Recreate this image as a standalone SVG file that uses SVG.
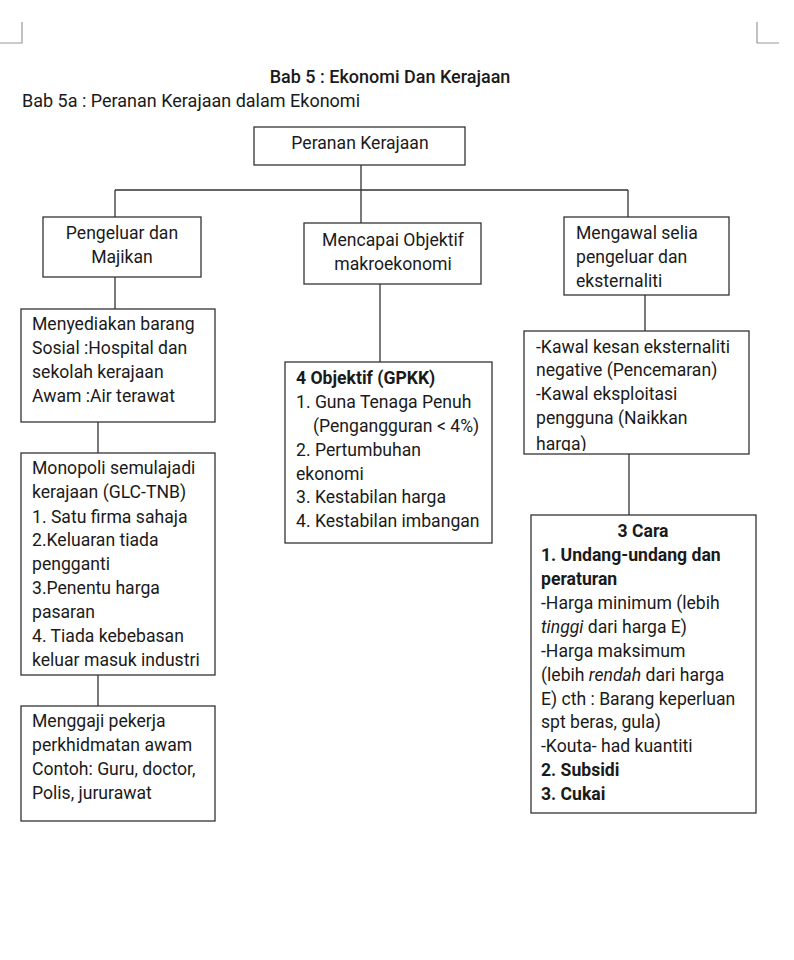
<svg xmlns="http://www.w3.org/2000/svg" width="794" height="960" viewBox="0 0 794 960">
<style>
text{font-family:Roboto,"Liberation Sans",sans-serif;font-size:17.6px;fill:#1a1a1a}
.t{font-size:18px}
.b{font-weight:bold}
.c{text-anchor:middle}
.i{font-style:italic}
.box{fill:#fff;stroke:#333;stroke-width:1.3}
.ln{stroke:#333;stroke-width:1.3;fill:none}
.mk{stroke:#999;stroke-width:1.2;fill:none}
</style>
<defs>
<clipPath id="clipK"><rect x="524" y="331" width="225" height="120"/></clipPath>
</defs>
<rect width="794" height="960" fill="#fff"/>
<path class="mk" d="M22 22V43H0M757 22V43H779"/>
<text x="390" y="83" class="c t" style="font-weight:500">Bab 5 : Ekonomi Dan Kerajaan</text>
<text x="22" y="107" class="t">Bab 5a : Peranan Kerajaan dalam Ekonomi</text>
<g id="connectors">
<path class="ln" d="M361 165V190M115 190H628M115 190V217M361 190V223M628 190V217"/>
<path class="ln" d="M115 277V309M98 422V453M98 675V706"/>
<path class="ln" d="M380 284V362"/>
<path class="ln" d="M645 295V331M629 454V515"/>
</g>
<g id="root">
<rect class="box" x="254" y="127" width="211" height="38"/>
<text x="360" y="149" class="c">Peranan Kerajaan</text>
</g>
<g id="pengeluar">
<rect class="box" x="43" y="217" width="158" height="60"/>
<text x="122" y="239" class="c">Pengeluar dan</text>
<text x="122" y="263" class="c">Majikan</text>
</g>
<g id="mencapai">
<rect class="box" x="304" y="223" width="177" height="61"/>
<text x="393" y="246" class="c">Mencapai Objektif</text>
<text x="393" y="270" class="c">makroekonomi</text>
</g>
<g id="mengawal">
<rect class="box" x="564" y="217" width="165" height="78"/>
<text x="576" y="239">Mengawal selia</text>
<text x="576" y="263">pengeluar dan</text>
<text x="576" y="287">eksternaliti</text>
</g>
<g id="menyediakan">
<rect class="box" x="21" y="309" width="194" height="113"/>
<text x="32" y="330">Menyediakan barang</text>
<text x="32" y="354">Sosial :Hospital dan</text>
<text x="32" y="378">sekolah kerajaan</text>
<text x="32" y="402">Awam :Air terawat</text>
</g>
<g id="monopoli">
<rect class="box" x="21" y="453" width="194" height="222"/>
<text x="32" y="474">Monopoli semulajadi</text>
<text x="32" y="498">kerajaan (GLC-TNB)</text>
<text x="32" y="523">1. Satu firma sahaja</text>
<text x="32" y="546">2.Keluaran tiada</text>
<text x="32" y="570">pengganti</text>
<text x="32" y="594">3.Penentu harga</text>
<text x="32" y="618">pasaran</text>
<text x="32" y="642">4. Tiada kebebasan</text>
<text x="32" y="666">keluar masuk industri</text>
</g>
<g id="menggaji">
<rect class="box" x="21" y="706" width="194" height="115"/>
<text x="32" y="727">Menggaji pekerja</text>
<text x="32" y="751">perkhidmatan awam</text>
<text x="32" y="775">Contoh: Guru, doctor,</text>
<text x="32" y="799">Polis, jururawat</text>
</g>
<g id="objektif">
<rect class="box" x="285" y="362" width="207" height="181"/>
<text x="296" y="384" class="b">4 Objektif (GPKK)</text>
<text x="296" y="408">1. Guna Tenaga Penuh</text>
<text x="313" y="432">(Pengangguran &lt; 4%)</text>
<text x="296" y="456">2. Pertumbuhan</text>
<text x="296" y="480">ekonomi</text>
<text x="296" y="503">3. Kestabilan harga</text>
<text x="296" y="527">4. Kestabilan imbangan</text>
</g>
<g id="kawal">
<rect class="box" x="524" y="331" width="225" height="123"/>
<g clip-path="url(#clipK)">
<text x="536" y="353">-Kawal kesan eksternaliti</text>
<text x="536" y="376">negative (Pencemaran)</text>
<text x="536" y="400">-Kawal eksploitasi</text>
<text x="536" y="424">pengguna (Naikkan</text>
<text x="536" y="450">harga)</text>
</g>
</g>
<g id="cara">
<rect class="box" x="531" y="515" width="225" height="298"/>
<text x="643" y="537" class="c b">3 Cara</text>
<text x="541" y="561" class="b">1. Undang-undang dan</text>
<text x="541" y="585" class="b">peraturan</text>
<text x="541" y="609">-Harga minimum (lebih</text>
<text x="541" y="633"><tspan class="i">tinggi</tspan> dari harga E)</text>
<text x="541" y="657">-Harga maksimum</text>
<text x="541" y="681">(lebih <tspan class="i">rendah</tspan> dari harga</text>
<text x="541" y="705">E) cth : Barang keperluan</text>
<text x="541" y="728">spt beras, gula)</text>
<text x="541" y="752">-Kouta- had kuantiti</text>
<text x="541" y="776" class="b">2. Subsidi</text>
<text x="541" y="800" class="b">3. Cukai</text>
</g>
</svg>
